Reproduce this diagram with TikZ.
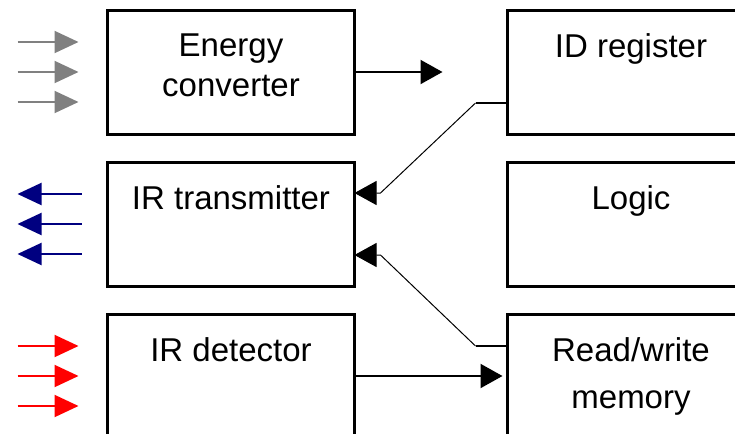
\documentclass[tikz,border=0pt]{standalone}
\usepackage{fontspec}
\setmainfont{Liberation Sans}
\usetikzlibrary{positioning,arrows.meta}
\definecolor{raygray}{RGB}{128,128,128}
\definecolor{raynavy}{RGB}{0,0,128}
\definecolor{rayred}{RGB}{255,0,0}

\begin{document}
\begin{tikzpicture}[node distance=14pt]
    \tikzstyle{block} = [rectangle, draw, line width=1.5pt, minimum width=123.5pt, minimum height=62pt, outer sep=0pt, inner sep=0pt]
    \tikzstyle{blocktext} = [align=center, inner sep=0pt, font=\fontsize{16.5}{20}\selectfont]
    \tikzstyle{wire} = [line width=1pt]
    \tikzstyle{thinwire} = [line width=0.5pt]
    \tikzstyle{ray} = [line width=1pt, -{Triangle[length=12pt,width=11pt]}]
    \tikzstyle{tip} = [-{Triangle[length=11pt,width=12pt]}]

    \useasboundingbox (0,0) rectangle (367.5pt,-217pt);

    \node[block] (conv) at (115.5pt,-36pt) {};
    \node[block, below=of conv] (trans) {};
    \node[block, below=of trans] (det) {};
    \node[block, right=76.5pt of conv] (idreg) {};
    \node[block, below=of idreg] (logic) {};
    \node[block, below=of logic] (mem) {};

    \node[blocktext, below=11.5pt of conv.north] (convtext) {Energy\\converter};
    \node[blocktext, below=11.5pt of trans.north] (transtext) {IR transmitter};
    \node[blocktext, below=11.5pt of det.north] (dettext) {IR detector};
    \node[blocktext, below=11.5pt of idreg.north] (idregtext) {ID register};
    \node[blocktext, below=11.5pt of logic.north] (logictext) {Logic};
    \node[blocktext, below=11.5pt of mem.north] (memtext) {Read/write\\[3.5pt]memory};

    % incoming and outgoing rays
    \foreach \i/\dy in {1/15pt,2/0pt,3/-15pt} {
        \coordinate (gin\i) at ([xshift=-45pt,yshift=\dy]conv.west);
        \coordinate (gout\i) at ([xshift=-14.5pt,yshift=\dy]conv.west);
        \draw[ray, raygray] (gin\i) -- (gout\i);
        \coordinate (nin\i) at ([xshift=-13pt,yshift=\dy]trans.west);
        \coordinate (nout\i) at ([xshift=-45pt,yshift=\dy]trans.west);
        \draw[ray, raynavy] (nin\i) -- (nout\i);
        \coordinate (rin\i) at ([xshift=-45pt,yshift=\dy]det.west);
        \coordinate (rout\i) at ([xshift=-14.5pt,yshift=\dy]det.west);
        \draw[ray, rayred] (rin\i) -- (rout\i);
    }

    \coordinate (convout) at ([xshift=44pt]conv.east);
    \draw[wire, tip] (conv.east) -- (convout);

    \coordinate (idport) at ([yshift=-15.5pt]idreg.west);
    \coordinate (idbend) at ([xshift=-16pt]idport);
    \coordinate (transup) at ([yshift=15.5pt]trans.east);
    \coordinate (transupin) at ([xshift=13pt]transup);
    \draw[wire] (idport) -- (idbend);
    \draw[thinwire, tip] (idbend) -- (transupin) -- (transup);

    \coordinate (memport) at ([yshift=15pt]mem.west);
    \coordinate (membend) at ([xshift=-16pt]memport);
    \coordinate (transdown) at ([yshift=-15.5pt]trans.east);
    \coordinate (transdownin) at ([xshift=13pt]transdown);
    \draw[wire] (memport) -- (membend);
    \draw[thinwire, tip] (membend) -- (transdownin) -- (transdown);

    \draw[wire, tip, shorten >=2.5pt] (det.east) -- (mem.west);
\end{tikzpicture}
\end{document}
